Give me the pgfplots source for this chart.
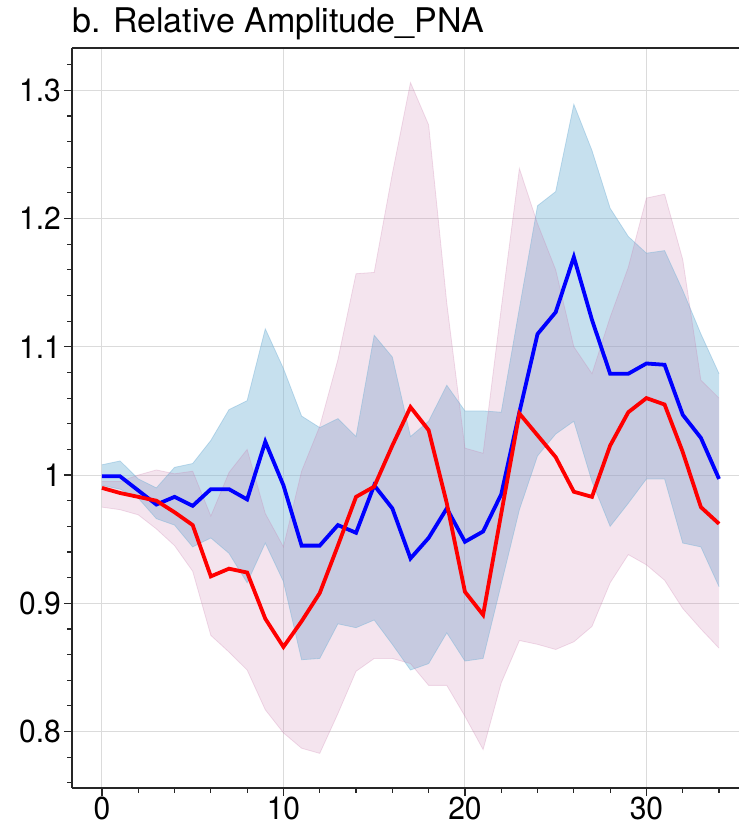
\documentclass[border=0pt]{standalone}
\usepackage{fontspec}
\setmainfont{TeX Gyre Heros}
\usepackage{graphicx}
\usepackage{pgfplots}
\usepackage{pgfplotstable}
\pgfplotsset{compat=1.18}
\usepgfplotslibrary{fillbetween}
\usetikzlibrary{calc}

\definecolor{bandblue}{RGB}{120,180,215}
\definecolor{bandpink}{RGB}{200,120,170}
\newcommand{\tl}[1]{\scalebox{1}[1.06]{#1}}

\pgfplotstableread{
x  mb     mr     bu     bl     pu     pl
0  0.999  0.990  1.008  0.992  0.995  0.975
1  0.999  0.986  1.011  0.989  0.995  0.973
2  0.988  0.983  0.997  0.982  1.000  0.969
3  0.977  0.980  0.990  0.966  1.004  0.958
4  0.983  0.971  1.006  0.961  1.001  0.945
5  0.976  0.961  1.009  0.944  1.003  0.925
6  0.989  0.921  1.027  0.951  0.968  0.875
7  0.989  0.927  1.051  0.939  1.002  0.862
8  0.981  0.924  1.058  0.916  1.020  0.848
9  1.026  0.888  1.114  0.947  0.970  0.817
10 0.992  0.866  1.083  0.917  0.944  0.799
11 0.945  0.886  1.046  0.856  1.003  0.787
12 0.945  0.908  1.037  0.857  1.038  0.783
13 0.961  0.945  1.044  0.884  1.090  0.814
14 0.955  0.983  1.030  0.881  1.157  0.847
15 0.992  0.991  1.109  0.887  1.158  0.857
16 0.974  1.023  1.092  0.868  1.235  0.857
17 0.935  1.053  1.030  0.848  1.306  0.853
18 0.951  1.035  1.042  0.853  1.273  0.836
19 0.974  0.978  1.070  0.877  1.134  0.836
20 0.948  0.909  1.050  0.855  1.021  0.812
21 0.956  0.891  1.050  0.857  1.017  0.786
22 0.985  0.970  1.049  0.915  1.130  0.838
23 1.049  1.048  1.130  0.973  1.239  0.871
24 1.110  1.031  1.210  1.015  1.196  0.868
25 1.127  1.014  1.221  1.032  1.160  0.864
26 1.170  0.987  1.289  1.042  1.100  0.870
27 1.121  0.983  1.253  0.995  1.079  0.882
28 1.079  1.023  1.208  0.960  1.123  0.916
29 1.079  1.049  1.186  0.978  1.162  0.938
30 1.087  1.060  1.173  0.997  1.216  0.930
31 1.086  1.055  1.175  0.997  1.219  0.918
32 1.047  1.018  1.144  0.947  1.168  0.896
33 1.029  0.975  1.110  0.944  1.074  0.880
34 0.997  0.962  1.079  0.913  1.060  0.865
}\datatable

\begin{document}
\begin{tikzpicture}
\begin{axis}[name=ax,
  scale only axis, width=667pt, height=740pt,
  xmin=-1.65, xmax=35.1, ymin=0.756, ymax=1.333,
  axis x line*=bottom, axis y line*=left,
  xtick={0,10,20,30}, xticklabels={\tl{0},\tl{10},\tl{20},\tl{30}},
  ytick={0.8,0.9,1.0,1.1,1.2,1.3},
  yticklabels={\tl{0.8},\tl{0.9},\tl{1},\tl{1.1},\tl{1.2},\tl{1.3}},
  minor xtick={0,2,...,34},
  minor ytick={0.76,0.78,0.80,0.82,0.84,0.86,0.88,0.90,0.92,0.94,0.96,0.98,1.00,1.02,1.04,1.06,1.08,1.10,1.12,1.14,1.16,1.18,1.20,1.22,1.24,1.26,1.28,1.30,1.32},
  tick align=outside,
  major tick length=8pt, minor tick length=4.5pt,
  every tick/.style={black!85, line width=1.3pt},
  minor tick style={black!85, line width=1.1pt},
  axis line style={black!85, line width=1.6pt},
  grid=major,
  major grid style={black!14, line width=0.9pt},
  ticklabel style={font=\fontsize{30}{30}\selectfont},
  xticklabel style={inner sep=1pt},
  yticklabel style={inner sep=3pt},
  title={b. Relative Amplitude\_PNA},
  title style={at={(0,1)}, anchor=base west, yshift=9pt, inner sep=0pt,
    font=\fontsize{34}{34}\selectfont},
]
\addplot[name path=bu, draw=bandblue, draw opacity=0.45, line width=0.8pt] table[x=x, y=bu] {\datatable};
\addplot[name path=bl, draw=bandblue, draw opacity=0.45, line width=0.8pt] table[x=x, y=bl] {\datatable};
\addplot[fill=bandblue, fill opacity=0.42, draw=none] fill between[of=bu and bl];
\addplot[name path=pu, draw=bandpink, draw opacity=0.25, line width=0.8pt] table[x=x, y=pu] {\datatable};
\addplot[name path=pl, draw=bandpink, draw opacity=0.25, line width=0.8pt] table[x=x, y=pl] {\datatable};
\addplot[fill=bandpink, fill opacity=0.2, draw=none] fill between[of=pu and pl];
\addplot[blue, line width=3.8pt, line join=miter] table[x=x, y=mb] {\datatable};
\addplot[red, line width=3.8pt, line join=miter] table[x=x, y=mr] {\datatable};
\draw[black!85, line width=1.6pt] (rel axis cs:0,1) -- (rel axis cs:1,1);
\end{axis}
\pgfresetboundingbox
\path[use as bounding box] ($(ax.south west)+(-72pt,-40pt)$) rectangle ($(ax.north east)+(0pt,48pt)$);
\end{tikzpicture}
\end{document}
